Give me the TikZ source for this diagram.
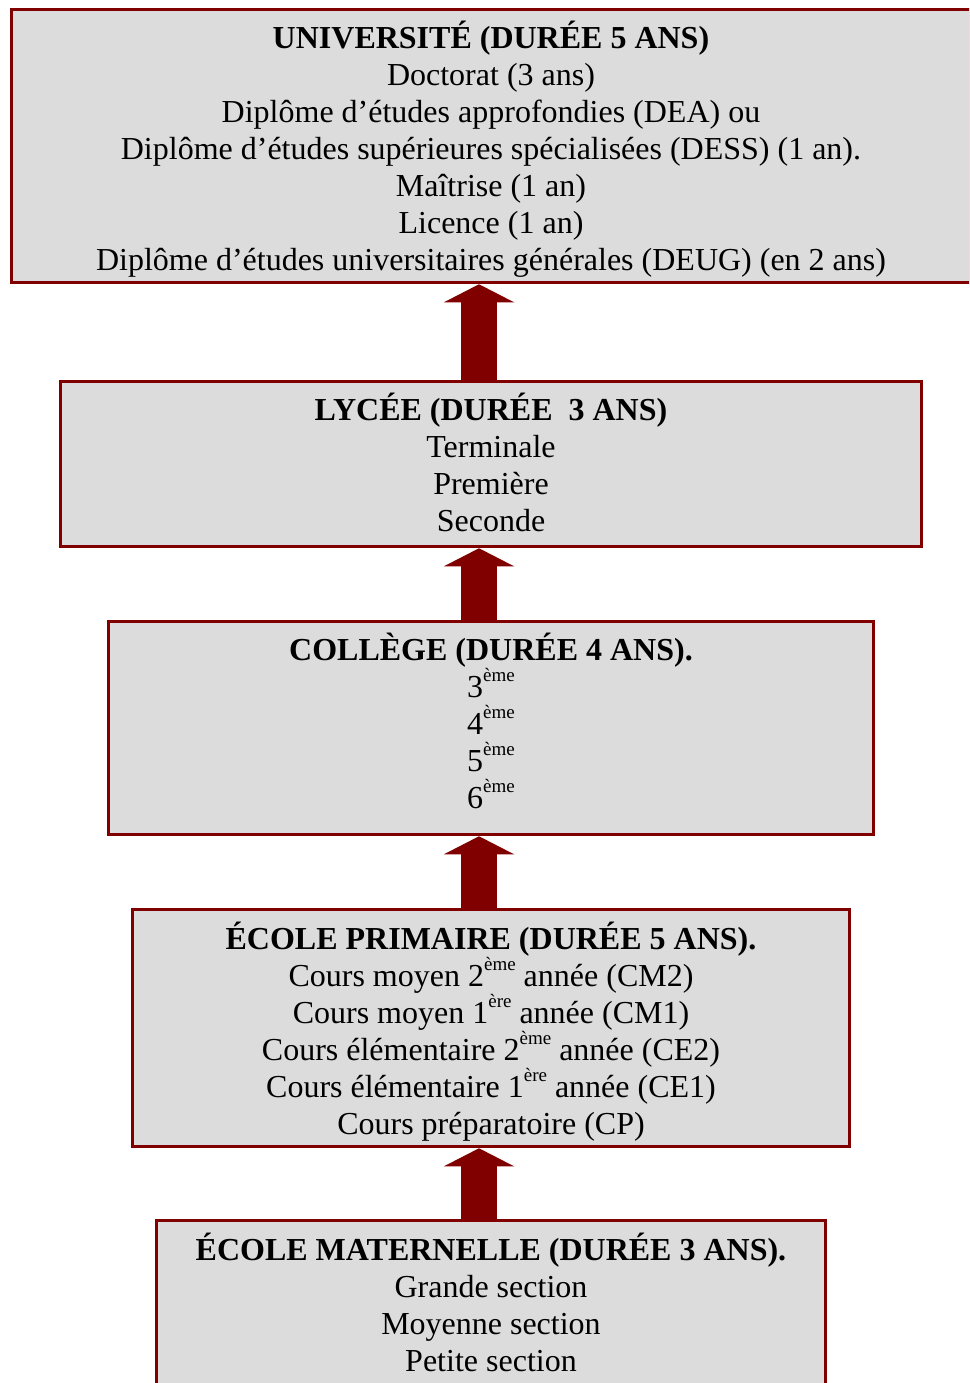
\documentclass[tikz,border=0pt]{standalone}
\usepackage{fontspec}
\setmainfont{Liberation Serif}
\usepackage{tikz}
\usetikzlibrary{positioning,calc,arrows.meta}
\definecolor{bordeaux}{RGB}{128,0,0}
\definecolor{boxgray}{RGB}{220,220,220}
\newcommand{\exposant}[1]{\raisebox{16pt}{\fontsize{19}{19}\selectfont #1}}
\tikzset{
	schema/.style={x=1pt,y=-1pt},
	level/.style={rectangle,draw=bordeaux,fill=boxgray,line width=3pt,inner sep=0pt},
	leveltext/.style={anchor=north,align=center,inner sep=0pt,
		font=\fontsize{32}{37}\selectfont},
	uparrow/.style={draw=bordeaux,line width=36pt,
		-{Triangle[width=70pt,length=18pt,line width=0pt]}}
}

\begin{document}
\begin{tikzpicture}[schema]
	\useasboundingbox (0,0) rectangle (969,1383);
	\clip (0,0) rectangle (969,1383);
	
	% les cinq niveaux
	\node[level,minimum width=959pt,minimum height=273.5pt] (univ) at (491,146) {};
	\node[level,minimum width=860.5pt,minimum height=165.5pt] (lycee) at (491,464) {};
	\node[level,minimum width=765.5pt,minimum height=213.5pt] (college) at (491,728) {};
	\node[level,minimum width=717.5pt,minimum height=237.5pt] (primaire) at (491,1028) {};
	\node[level,minimum width=669.5pt,minimum height=198.5pt] (maternelle) at (491,1320) {};
	
	\node[leveltext] (univtext) at ($(univ.north)+(0,13)$) {\textbf{UNIVERSITÉ (DURÉE 5 ANS)}\\
		Doctorat (3 ans)\\
		Diplôme d’études approfondies (DEA) ou\\
		Diplôme d’études supérieures spécialisées (DESS) (1 an).\\
		Maîtrise (1 an)\\
		Licence (1 an)\\
		Diplôme d’études universitaires générales (DEUG) (en 2 ans)};
	\node[leveltext] (lyceetext) at ($(lycee.north)+(0,13)$) {\textbf{LYCÉE (DURÉE\ \ 3 ANS)}\\
		Terminale\\
		Première\\
		Seconde};
	\node[leveltext] (collegetext) at ($(college.north)+(0,13)$) {\textbf{COLLÈGE (DURÉE 4 ANS).}\\
		3\exposant{ème}\\
		4\exposant{ème}\\
		5\exposant{ème}\\
		6\exposant{ème}};
	\node[leveltext] (primairetext) at ($(primaire.north)+(0,14)$) {\textbf{ÉCOLE PRIMAIRE (DURÉE 5 ANS).}\\
		Cours moyen 2\exposant{ème} année (CM2)\\
		Cours moyen 1\exposant{ère} année (CM1)\\
		Cours élémentaire 2\exposant{ème} année (CE2)\\
		Cours élémentaire 1\exposant{ère} année (CE1)\\
		Cours préparatoire (CP)};
	\node[leveltext] (maternelletext) at ($(maternelle.north)+(0,14)$) {\textbf{ÉCOLE MATERNELLE (DURÉE 3 ANS).}\\
		Grande section\\
		Moyenne section\\
		Petite section};
	
	\draw[uparrow] ($(lycee.north)+(-12,0)$) -- ($(univ.south)+(-12,0)$);
	\draw[uparrow] ($(college.north)+(-12,0)$) -- ($(lycee.south)+(-12,0)$);
	\draw[uparrow] ($(primaire.north)+(-12,0)$) -- ($(college.south)+(-12,0)$);
	\draw[uparrow] ($(maternelle.north)+(-12,0)$) -- ($(primaire.south)+(-12,0)$);
\end{tikzpicture}
\end{document}
